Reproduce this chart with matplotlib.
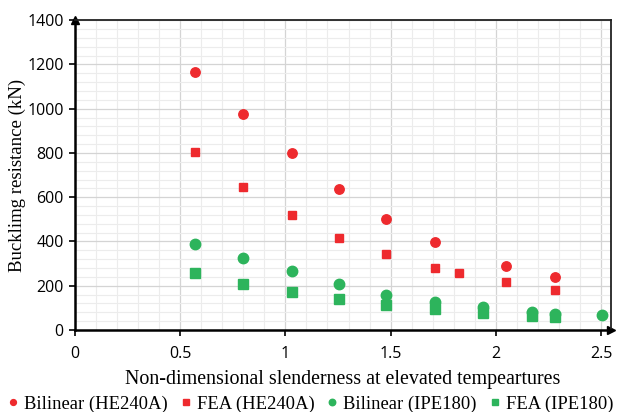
import numpy as np
import matplotlib.pyplot as plt
from matplotlib.ticker import MultipleLocator

# data
x_bil_he = [0.57, 0.80, 1.03, 1.255, 1.48, 1.71, 2.05, 2.28]
y_bil_he = [1167, 978, 800, 636, 500, 396, 290, 238]
x_fea_he = [0.57, 0.80, 1.03, 1.255, 1.48, 1.71, 1.825, 2.05, 2.28]
y_fea_he = [804, 646, 518, 417, 342, 281, 257, 217, 183]
x_bil_ipe = [0.57, 0.80, 1.03, 1.255, 1.48, 1.71, 1.94, 2.17, 2.28, 2.505]
y_bil_ipe = [390, 326, 265, 207, 160, 126, 102, 82, 74, 66]
x_fea_ipe = [0.57, 0.80, 1.03, 1.255, 1.48, 1.71, 1.94, 2.17, 2.28]
y_fea_ipe = [257, 209, 173, 141, 115, 94, 78, 63, 57]

red = '#ee2a2e'
green = '#2db45c'

fig = plt.figure(figsize=(6.4, 4.12), dpi=100)
ax = fig.add_axes([0.117, 0.199, 0.838, 0.752])

ax.plot(x_bil_he, y_bil_he, 'o', color=red, ms=6.8, ls='none', label='Bilinear (HE240A)')
ax.plot(x_fea_he, y_fea_he, 's', color=red, ms=6.3, ls='none', label='FEA (HE240A)')
ax.plot(x_bil_ipe, y_bil_ipe, 'o', color=green, ms=7.5, ls='none', label='Bilinear (IPE180)')
ax.plot(x_fea_ipe, y_fea_ipe, 's', color=green, ms=6.8, ls='none', label='FEA (IPE180)')

ax.set_xlim(0, 2.548)
ax.set_ylim(0, 1400)
ax.xaxis.set_major_locator(MultipleLocator(0.5))
ax.xaxis.set_minor_locator(MultipleLocator(0.1))
ax.yaxis.set_major_locator(MultipleLocator(200))
ax.yaxis.set_minor_locator(MultipleLocator(40))
ax.set_xticks([0, 0.5, 1, 1.5, 2, 2.5], ['0', '0.5', '1', '1.5', '2', '2.5'])
ax.grid(which='major', color='#d4d4d4', lw=0.9)
ax.grid(which='minor', color='#ececec', lw=0.8)
ax.set_axisbelow(True)

for s in ['left', 'bottom']:
    ax.spines[s].set_linewidth(1.8)
for s in ['top', 'right']:
    ax.spines[s].set_linewidth(1.3)
    ax.spines[s].set_color('#222222')

ax.tick_params(which='major', direction='out', length=4, width=1.2, labelsize=11.5)
ax.tick_params(axis='x', pad=7.5)
ax.tick_params(axis='y', pad=4)
ax.tick_params(which='minor', length=0)
for lab in ax.get_xticklabels() + ax.get_yticklabels():
    lab.set_fontfamily('Open Sans')

# arrow heads at the axis ends
ax.plot(1, 0, '>k', ms=6, transform=ax.transAxes, clip_on=False)
ax.plot(0, 1, '^k', ms=6, transform=ax.transAxes, clip_on=False)

ax.set_xlabel('Non-dimensional slenderness at elevated tempeartures',
              family='Liberation Serif', fontsize=14.4, labelpad=5.5)
ax.set_ylabel('Bucklimg resistance (kN)', family='Liberation Serif', fontsize=13.5)
ax.yaxis.set_label_coords(-0.092, 0.5)

fig.legend(loc='lower center', ncol=4, bbox_to_anchor=(0.485, -0.042), frameon=False,
           prop={'family': 'Liberation Serif', 'size': 13.4}, markerscale=0.62,
           handlelength=0.6, handletextpad=0.3, columnspacing=0.65)

fig.savefig('out.png', dpi=100)
